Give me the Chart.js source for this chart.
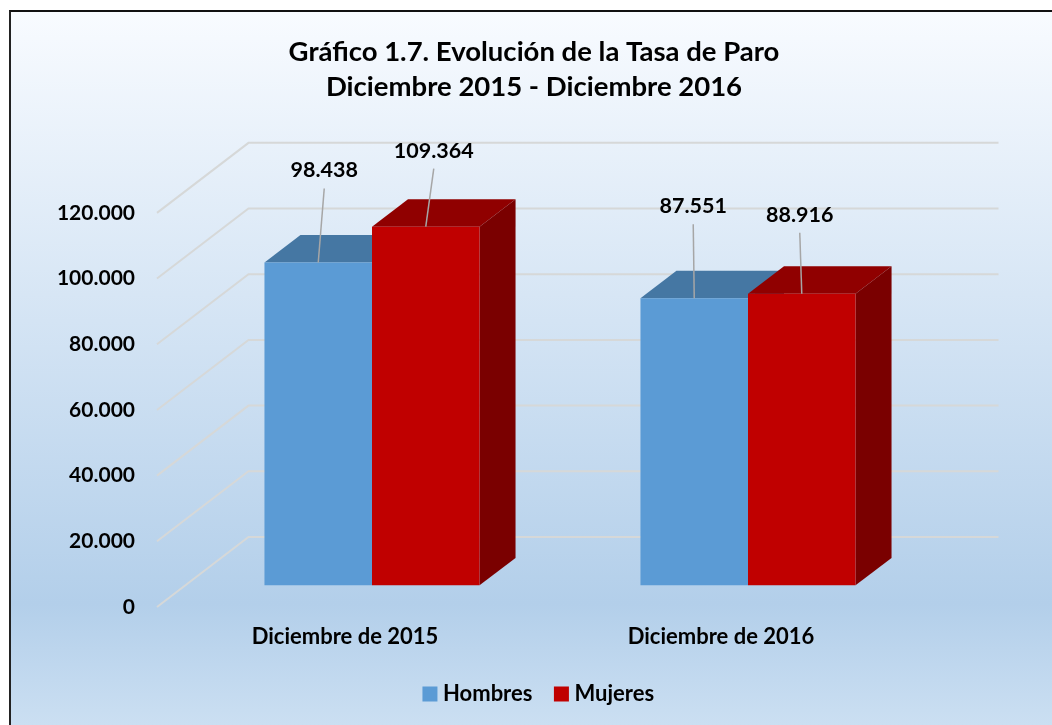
<!DOCTYPE html>
<html lang="es">
<head>
    <meta charset="UTF-8">
    <title>Evolución de la Tasa de Paro</title>
    <script src="https://cdn.jsdelivr.net/npm/chart.js"></script>
    <style>
        html, body { margin: 0; padding: 0; background: #fff; overflow: hidden; }
        #frame {
            position: absolute; left: 9px; top: 10px; width: 1043px; height: 715px;
            box-sizing: border-box; border-left: 2px solid #222; border-top: 2px solid #111;
            background: linear-gradient(180deg, #f8fbff 0%, #b3cfea 83%, #cbdff2 100%);
        }
        #wrap { position: absolute; left: 0; top: 0; width: 1052px; height: 725px; }
    </style>
</head>
<body>
    <div id="frame"></div>
    <div id="wrap"><canvas id="paroChart" width="1052" height="725"></canvas></div>

    <script>
        const categories = ['Diciembre de 2015', 'Diciembre de 2016'];
        const hombres = [98438, 87551];
        const mujeres = [109364, 88916];
        const titleLines = ['Gráfico 1.7. Evolución de la Tasa de Paro', 'Diciembre 2015 - Diciembre 2016'];

        const FONT = 'Lato, Carlito, Calibri, sans-serif';
        const fmt = v => v.toLocaleString('de-DE');

        // Fake 3D depth, as the chart in the original has
        const WALL_DX = 91.5, WALL_DY = 70, WALL_RIGHT = 998.5, FLOOR_SHIFT = 27;
        const BAR_DX = 36, BAR_DY = 27.4;
        // Label position relative to the top of each bar [dataset][category]
        const labelShift = [[{ dx: 6, dy: 92 }, { dx: -1, dy: 92 }], [{ dx: 8, dy: 76 }, { dx: -2, dy: 79 }]];
        const sideColors = [{ top: '#4577a3', side: '#3a6690' }, { top: '#900000', side: '#7a0000' }];

        const wallsAndDepth = {
            id: 'wallsAndDepth',
            beforeDatasetsDraw(chart) {
                const { ctx, chartArea, scales } = chart;
                const x0 = chartArea.left - FLOOR_SHIFT;

                ctx.save();
                ctx.strokeStyle = '#d6d8d8';
                ctx.lineWidth = 2;
                scales.y.ticks.forEach(t => {
                    const py = scales.y.getPixelForValue(t.value);
                    ctx.beginPath();
                    ctx.moveTo(x0, py);
                    ctx.lineTo(x0 + WALL_DX, py - WALL_DY);
                    ctx.lineTo(WALL_RIGHT, py - WALL_DY);
                    ctx.stroke();
                });

                chart.data.datasets.forEach((ds, i) => {
                    chart.getDatasetMeta(i).data.forEach(bar => {
                        const l = bar.x - bar.width / 2, r = bar.x + bar.width / 2;
                        ctx.fillStyle = sideColors[i].top;
                        ctx.beginPath();
                        ctx.moveTo(l, bar.y);
                        ctx.lineTo(l + BAR_DX, bar.y - BAR_DY);
                        ctx.lineTo(r + BAR_DX, bar.y - BAR_DY);
                        ctx.lineTo(r, bar.y);
                        ctx.closePath();
                        ctx.fill();

                        ctx.fillStyle = sideColors[i].side;
                        ctx.beginPath();
                        ctx.moveTo(r, bar.y);
                        ctx.lineTo(r + BAR_DX, bar.y - BAR_DY);
                        ctx.lineTo(r + BAR_DX, bar.base - BAR_DY);
                        ctx.lineTo(r, bar.base);
                        ctx.closePath();
                        ctx.fill();
                    });
                });
                ctx.restore();
            }
        };

        const leaderLabels = {
            id: 'leaderLabels',
            afterDatasetsDraw(chart) {
                const { ctx } = chart;
                ctx.save();
                ctx.font = 'bold 21.5px ' + FONT;
                ctx.textAlign = 'center';
                ctx.textBaseline = 'middle';
                chart.data.datasets.forEach((ds, i) => {
                    chart.getDatasetMeta(i).data.forEach((bar, j) => {
                        const s = labelShift[i][j];
                        ctx.strokeStyle = '#a6a6a6';
                        ctx.lineWidth = 1.5;
                        ctx.beginPath();
                        ctx.moveTo(bar.x, bar.y);
                        ctx.lineTo(bar.x + s.dx, bar.y - s.dy + 18);
                        ctx.stroke();
                        ctx.fillStyle = '#000';
                        ctx.fillText(fmt(ds.data[j]), bar.x + s.dx, bar.y - s.dy);
                    });
                });
                ctx.restore();
            }
        };

        // The legend sits a little right of the title in the original
        const legendNudge = {
            id: 'legendNudge',
            afterLayout(chart) {
                chart.legend.left += 7;
                chart.legend.right += 7;
            }
        };

        new Chart(document.getElementById('paroChart'), {
            type: 'bar',
            data: {
                labels: categories,
                datasets: [
                    { label: 'Hombres', data: hombres, backgroundColor: '#5b9bd5', yAxisID: 'yBars' },
                    { label: 'Mujeres', data: mujeres, backgroundColor: '#c00000', yAxisID: 'yBars' }
                ]
            },
            plugins: [wallsAndDepth, leaderLabels, legendNudge],
            options: {
                responsive: false,
                animation: false,
                clip: false,
                barPercentage: 1,
                categoryPercentage: 0.572,
                layout: { padding: { left: 16, bottom: 10 } },
                plugins: {
                    tooltip: { enabled: false },
                    title: {
                        display: true,
                        text: titleLines,
                        color: '#000',
                        font: { family: FONT, size: 27.5, weight: 'bold', lineHeight: 1.27 },
                        padding: { top: 35, bottom: 108 }
                    },
                    legend: {
                        position: 'bottom',
                        labels: {
                            color: '#000',
                            font: { family: FONT, size: 22, weight: 'bold' },
                            boxWidth: 4,
                            boxHeight: 4,
                            padding: 27,
                            // thick same-colour outline makes a 15px square with a tight gap to the text
                            generateLabels(chart) {
                                return Chart.defaults.plugins.legend.labels.generateLabels(chart).map(item => ({
                                    ...item,
                                    strokeStyle: item.fillStyle,
                                    lineWidth: 11
                                }));
                            }
                        }
                    }
                },
                scales: {
                    x: {
                        grid: { display: false, drawTicks: false },
                        border: { display: false },
                        ticks: { color: '#000', font: { family: FONT, size: 22, weight: 'bold' }, labelOffset: -FLOOR_SHIFT, padding: 17, maxRotation: 0 },
                        afterFit(axis) { axis.height = 49; }
                    },
                    y: {
                        position: 'left',
                        min: 0,
                        max: 120000,
                        grid: { display: false, drawTicks: false },
                        border: { display: false },
                        ticks: { stepSize: 20000, color: '#000', font: { family: FONT, size: 21, weight: 'bold' }, padding: 49, callback: fmt },
                        afterFit(axis) { axis.width = 168; }
                    },
                    // bars sit deeper in the fake 3D box, so they get their own scale
                    yBars: {
                        position: 'right',
                        min: -6620,
                        max: 113575,
                        grid: { display: false, drawTicks: false },
                        border: { display: false },
                        ticks: { display: false },
                        afterFit(axis) { axis.width = 116; }
                    }
                }
            }
        });
    </script>
</body>
</html>
